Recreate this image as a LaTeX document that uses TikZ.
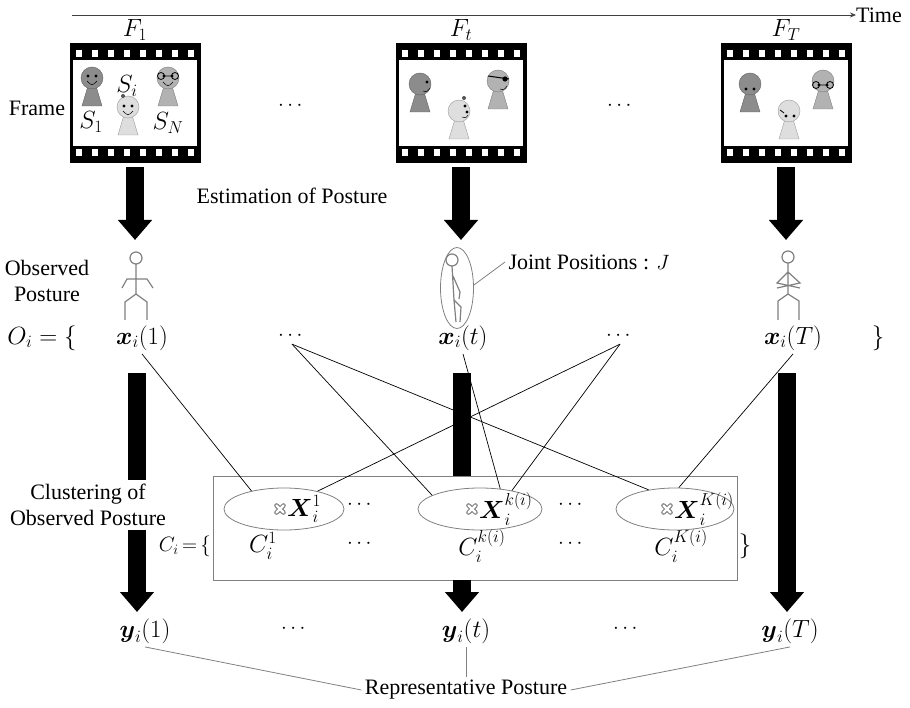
\documentclass[tikz,border=0pt]{standalone}
\usepackage{amsmath}
\usepackage{fontspec}
\setmainfont{Liberation Serif}
\usetikzlibrary{positioning}
\usetikzlibrary{arrows.meta}
\usetikzlibrary{shapes.geometric}

\definecolor{pdark}{gray}{0.55}
\definecolor{pmid}{gray}{0.7}
\definecolor{plight}{gray}{0.87}

% pawn shaped person: head centre x, y and colour
\newcommand\pawn[3]{%
  \filldraw[fill=#3, draw=#3!70!black, line width=0.4pt]
    (#1-4,#2+8) -- (#1+4,#2+8) -- (#1+10,#2+28) -- (#1-10,#2+28) -- cycle;
  \filldraw[fill=#3, draw=#3!70!black, line width=0.4pt] (#1,#2) circle (11pt);
}
\newcommand\eyes[2]{\fill (#1-4,#2) circle (1.6pt) (#1+4,#2) circle (1.6pt);}
\newcommand\grin[2]{\draw[line width=0.5pt] (#1-5,#2) .. controls (#1,#2+5) .. (#1+5,#2);}
% grey cross on a cluster centre
\newcommand\centremark[1]{%
  \draw[gray, line width=4.6pt, line cap=round]
    ([shift={(-3.5,-3.5)}]#1) -- ([shift={(3.5,3.5)}]#1) ([shift={(-3.5,3.5)}]#1) -- ([shift={(3.5,-3.5)}]#1);
  \draw[white, line width=2.4pt, line cap=round]
    ([shift={(-3.5,-3.5)}]#1) -- ([shift={(3.5,3.5)}]#1) ([shift={(-3.5,3.5)}]#1) -- ([shift={(3.5,-3.5)}]#1);
}

\begin{document}
\begin{tikzpicture}[x=1pt, y=-1pt,
    every node/.style={font=\fontsize{22}{26}\selectfont},
    eq/.style={font=\fontsize{25}{28}\selectfont},
    film/.style={fill=black, minimum width=131pt, minimum height=120pt, inner sep=0pt},
    bigarrow/.style={line width=18pt, -{Triangle[width=33pt,length=20pt]}},
    shaft/.style={line width=18pt},
    stick/.style={draw=gray, line width=1.2pt},
    cluster/.style={ellipse, draw=gray, line width=0.8pt, minimum height=42pt, inner sep=0pt},
    link/.style={line width=0.7pt},
    note/.style={draw=gray, line width=0.8pt}]
    \useasboundingbox (0,0) rectangle (910,708);

    % time axis
    \coordinate (t0) at (72,15);
    \node [anchor=west, inner sep=0pt] (time) at (856,15) {Time};
    \draw [gray!50!black, line width=0.8pt, -{Stealth[length=6pt,width=5pt]}] (t0) -- (time.west);

    % film frames
    \node [film] (f1) at (135,103) {};
    \node [film] (ft) at (461,103) {};
    \node [film] (fT) at (786,103) {};
    \foreach \f in {f1,ft,fT}{
        \fill [white] ([shift={(4,17)}]\f.north west) rectangle ([shift={(-4,-17)}]\f.south east);
        \foreach \k in {0,...,7}{
            \fill [white] ([shift={(7+16*\k,7)}]\f.north west) rectangle +(6,7);
            \fill [white] ([shift={(7+16*\k,-14)}]\f.south west) rectangle +(6,7);
        }
    }
    \node [eq] (F1) at (135,30) {$F_1$};
    \node [eq] (Ft) at (461,30) {$F_t$};
    \node [eq] (FT) at (786,30) {$F_T$};
    \node (framelbl) at (37,108) {Frame};
    \node (fd1) at (292,106) {$\cdots$};
    \node (fd2) at (621,106) {$\cdots$};

    % people in frame 1
    \pawn{92}{78}{pdark} \eyes{92}{76} \grin{92}{81}
    \pawn{168}{78}{pmid} \eyes{168}{76} \grin{168}{82}
    \draw [line width=0.8pt] (161,76) circle (3.5pt) (175,76) circle (3.5pt) (164.5,76) -- (171.5,76);
    \pawn{128}{107}{plight} \eyes{128}{106} \grin{128}{111}
    \fill [pdark!60!black] (123,96) circle (2pt);
    \node [eq] (s1) at (91,122) {$S_1$};
    \node [eq] (si) at (127,86) {$S_i$};
    \node [eq] (sN) at (168,123) {$S_N$};

    % people in frame t
    \pawn{420}{84}{pdark} \fill (427,82) circle (1.6pt);
    \draw [line width=0.5pt] (423,91) .. controls (427,92) .. (430,88);
    \pawn{459}{111}{plight} \fill (465,106) circle (1.6pt) (467,112) circle (1.6pt);
    \draw [line width=0.5pt] (462,117) .. controls (466,118) .. (468,115);
    \fill [pdark!60!black] (464,98) circle (2pt);
    \pawn{498}{81}{pmid}
    \draw [line width=1pt] (488,76) -- (509,79);
    \fill (505,79) circle (2.6pt);
    \draw [line width=0.5pt] (500,89) .. controls (504,90) .. (507,86);

    % people in frame T
    \pawn{750}{84}{pdark} \eyes{750}{89}
    \pawn{789}{111}{plight} \eyes{790}{116}
    \draw [line width=0.8pt] (780,110) -- (784,113);
    \pawn{823}{81}{pmid} \eyes{823}{85}
    \draw [line width=0.8pt] (816,85) circle (3.5pt) (830,85) circle (3.5pt) (819.5,85) -- (826.5,85);

    % posture estimation
    \coordinate (h1) at (135,240);
    \coordinate (ht) at (461,240);
    \coordinate (hT) at (786,240);
    \draw [bigarrow, shorten <=4pt] (f1.south) -- (h1);
    \draw [bigarrow, shorten <=4pt] (ft.south) -- (ht);
    \draw [bigarrow, shorten <=4pt] (fT.south) -- (hT);
    \node (estlbl) at (292,196) {Estimation of Posture};
    \node [align=center] (obslbl) at (47,281) {Observed\\Posture};

    % stick figures
    \draw [stick] (136,258) circle (6pt);
    \draw [stick] (136,264) -- (136,294) (122,288) -- (127,279) -- (147,279) -- (153,288)
        (125,320) -- (125,302) -- (136,294) -- (147,302) -- (147,320);
    \draw [stick] (452,260) circle (6pt);
    \draw [stick] (452,266) -- (454,300) -- (461,307) -- (460,322) (454,300) -- (456,322)
        (453,276) -- (460,292) -- (459,299);
    \node [ellipse, draw=gray, line width=0.8pt, minimum width=33pt, minimum height=81pt, inner sep=0pt] (jel) at (457,288) {};
    \node [anchor=west] (jp) at (505,262) {Joint Positions : $J$};
    \draw [note] (jel.10) -- (jp.west);
    \draw [stick] (788,257) circle (6pt);
    \draw [stick] (788,263) -- (788,294) (788,272) -- (777,283) -- (800,288) (788,272) -- (800,283) -- (777,288)
        (778,320) -- (778,301) -- (788,294) -- (799,301) -- (799,320);

    % observed postures
    \node [eq] (Oi) at (42,338) {$O_i = \{$};
    \node [eq] (x1) at (142,338) {$\boldsymbol{x}_i(1)$};
    \node (xd1) at (292,336) {$\cdots$};
    \node [eq] (xt) at (463,338) {$\boldsymbol{x}_i(t)$};
    \node (xd2) at (620,336) {$\cdots$};
    \node [eq] (xT) at (793,338) {$\boldsymbol{x}_i(T)$};
    \node [eq] (Orb) at (878,338) {$\}$};

    % clusters
    \node [draw=gray, line width=0.8pt, minimum width=524pt, minimum height=104pt, inner sep=0pt] (clbox) at (475,528) {};
    \coordinate (l1) at (137,373);
    \coordinate (l2) at (137,612);
    \coordinate (m1) at (462,373);
    \coordinate (m2) at (462,612);
    \coordinate (r1) at (787,373);
    \coordinate (r2) at (787,612);
    \draw [bigarrow] (l1) -- (l2);
    \draw [bigarrow] (r1) -- (r2);
    \draw [shaft] (m1) -- (m1 |- clbox.north);
    \draw [bigarrow] (m1 |- clbox.south) -- (m2);
    \node [fill=white, align=center, inner xsep=2pt, inner ysep=4pt] (cllbl) at (88,505) {Clustering of\\Observed Posture};

    \node [cluster, minimum width=120pt] (E1) at (284,509) {};
    \node [cluster, minimum width=124pt] (E2) at (480,509) {};
    \node [cluster, minimum width=118pt] (E3) at (675,509) {};
    \coordinate (mk1) at (280,509);
    \coordinate (mk2) at (472,509);
    \coordinate (mk3) at (667,509);
    \centremark{mk1}
    \centremark{mk2}
    \centremark{mk3}
    \node [eq, anchor=west, inner sep=1pt] (X1) at (286,509) {$\boldsymbol{X}_i^1$};
    \node [eq, anchor=west, inner sep=1pt] (Xk) at (478,509) {$\boldsymbol{X}_i^{k(i)}$};
    \node [eq, anchor=west, inner sep=1pt] (XK) at (673,509) {$\boldsymbol{X}_i^{K(i)}$};
    \node (ed1) at (361,505) {$\cdots$};
    \node (ed2) at (572,505) {$\cdots$};

    \node [anchor=east, inner sep=0pt] (Ci) at (211,546) {$C_i\,{=}\,\{$};
    \node [eq] (C1) at (263,546) {$C_i^1$};
    \node (cd1) at (361,544) {$\cdots$};
    \node [eq] (Ck) at (482,546) {$C_i^{k(i)}$};
    \node (cd2) at (572,544) {$\cdots$};
    \node [eq] (CK) at (681,546) {$C_i^{K(i)}$};
    \node [eq] (Crb) at (745,546) {$\}$};

    % assignment of postures to clusters
    \draw [link] (x1.south) -- (E1.151);
    \draw [link] (xd1.south) -- (E2.164);
    \draw [link] (xd1.south) -- (E3.144);
    \draw [link] (xt.south) -- (E2.45);
    \draw [link] (xd2.south) -- (E1.28);
    \draw [link] (xd2.south) -- (E2.30);
    \draw [link] (xT.south) -- (E3.80);

    % representative postures
    \node [eq] (y1) at (145,631) {$\boldsymbol{y}_i(1)$};
    \node (yd1) at (295,629) {$\cdots$};
    \node [eq] (yt) at (466,631) {$\boldsymbol{y}_i(t)$};
    \node (yd2) at (627,629) {$\cdots$};
    \node [eq] (yT) at (790,631) {$\boldsymbol{y}_i(T)$};
    \node (rep) at (466,690) {Representative Posture};
    \draw [note] (y1.south) -- (rep.west);
    \draw [note] (yt.south) -- (rep.north);
    \draw [note] (yT.south) -- (rep.east);
\end{tikzpicture}
\end{document}
